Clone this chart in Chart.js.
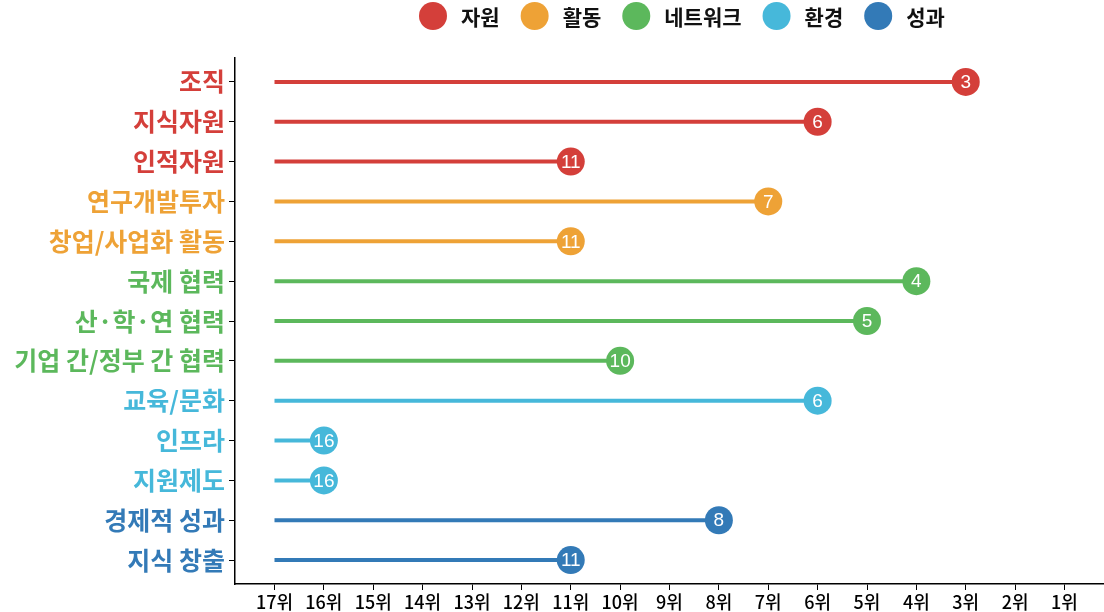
<!DOCTYPE html>
<html>
<head>
<meta charset="utf-8">
<script src="https://cdn.jsdelivr.net/npm/chart.js@4.4.0/dist/chart.umd.min.js"></script>
<style>
  html, body { margin: 0; padding: 0; background: #fff; overflow: hidden; }
  #grafico { display: block; }
</style>
</head>
<body>
<canvas id="grafico" width="1104" height="612"></canvas>
<script>
const categorias = ['조직', '지식자원', '인적자원', '연구개발투자', '창업/사업화 활동', '국제 협력', '산·학·연 협력', '기업 간/정부 간 협력', '교육/문화', '인프라', '지원제도', '경제적 성과', '지식 창출'];
const grupoDaCategoria = ['자원', '자원', '자원', '활동', '활동', '네트워크', '네트워크', '네트워크', '환경', '환경', '환경', '성과', '성과'];
const ranking = [3, 6, 11, 7, 11, 4, 5, 10, 6, 16, 16, 8, 11];
const grupos = ['자원', '활동', '네트워크', '환경', '성과'];
const coresGrupos = ['#d43f3a', '#eea236', '#5cb85c', '#46b8da', '#337ab7'];
const posicoes = [17, 16, 15, 14, 13, 12, 11, 10, 9, 8, 7, 6, 5, 4, 3, 2, 1];
const inicioLinha = 17;

const fonteKR = '"Noto Sans CJK KR", "Noto Sans", sans-serif';

function corDe(i) {
  return coresGrupos[grupos.indexOf(grupoDaCategoria[i])];
}

// legenda desenhada a mao para controlar tamanho do circulo
const legendaGrupos = {
  id: 'legendaGrupos',
  afterDraw(chart) {
    const ctx = chart.ctx;
    const raio = 14, gapTexto = 28, gapItem = 35, y = 16;
    ctx.save();
    ctx.font = 'bold 21px ' + fonteKR;
    ctx.textBaseline = 'middle';
    ctx.textAlign = 'left';
    let larguras = grupos.map(g => ctx.measureText(g).width);
    let x = 419;
    grupos.forEach((g, i) => {
      ctx.fillStyle = coresGrupos[i];
      ctx.beginPath();
      ctx.arc(x + raio, y, raio, 0, Math.PI * 2);
      ctx.fill();
      ctx.fillStyle = '#111';
      ctx.fillText(g, x + raio + gapTexto, y + 1);
      x += raio + gapTexto + larguras[i] + gapItem - raio;
    });
    ctx.restore();
  }
};

const rotulosPontos = {
  id: 'rotulosPontos',
  afterDatasetsDraw(chart) {
    const ctx = chart.ctx;
    const meta = chart.getDatasetMeta(0);
    ctx.save();
    ctx.font = '19px "Liberation Sans", Arial, sans-serif';
    ctx.fillStyle = '#fff';
    ctx.textAlign = 'center';
    ctx.textBaseline = 'middle';
    meta.data.forEach((p, i) => ctx.fillText(ranking[i], p.x, p.y + 1));
    ctx.restore();
  }
};

const datasets = [{
  label: 'pontos',
  data: ranking.map((r, i) => ({ x: r, y: i })),
  pointRadius: 14,
  pointHoverRadius: 14,
  backgroundColor: categorias.map((c, i) => corDe(i)),
  borderWidth: 0,
  showLine: false
}];

categorias.forEach(function (c, i) {
  datasets.push({
    label: c,
    data: [{ x: inicioLinha, y: i }, { x: ranking[i], y: i }],
    showLine: true,
    borderColor: corDe(i),
    borderWidth: 4,
    pointRadius: 0,
    pointHoverRadius: 0
  });
});

new Chart(document.getElementById('grafico'), {
  type: 'scatter',
  data: { datasets: datasets },
  options: {
    responsive: false,
    animation: false,
    layout: { autoPadding: false, padding: { top: 58, right: 0, left: 0, bottom: 0 } },
    plugins: {
      legend: { display: false },
      tooltip: { enabled: false }
    },
    scales: {
      x: {
        type: 'linear',
        min: 0.2,
        max: 17.8,
        reverse: true,
        afterBuildTicks: s => { s.ticks = posicoes.map(v => ({ value: v })); },
        afterFit: s => { s.height = 28; s.paddingRight = 0; s.paddingLeft = 0; },
        grid: { drawOnChartArea: false, drawTicks: true, tickLength: 6, color: '#000', lineWidth: 1 },
        border: { display: true, color: '#000', width: 1.5 },
        ticks: {
          callback: v => v + '위',
          color: '#000',
          font: { family: fonteKR, size: 18, weight: '500' },
          padding: 1,
          maxRotation: 0,
          autoSkip: false
        }
      },
      y: {
        type: 'linear',
        min: -0.6,
        max: 12.6,
        reverse: true,
        afterBuildTicks: s => { s.ticks = categorias.map((c, i) => ({ value: i })); },
        afterFit: s => { s.width = 235; s.paddingTop = 0; s.paddingBottom = 0; },
        grid: { drawOnChartArea: false, drawTicks: true, tickLength: 6, color: '#000', lineWidth: 1 },
        border: { display: true, color: '#000', width: 1.5 },
        ticks: {
          callback: v => categorias[v],
          color: c => corDe(c.index),
          font: { family: fonteKR, size: 25, weight: 'bold' },
          padding: 4,
          autoSkip: false
        }
      }
    }
  },
  plugins: [legendaGrupos, rotulosPontos]
});
</script>
</body>
</html>
